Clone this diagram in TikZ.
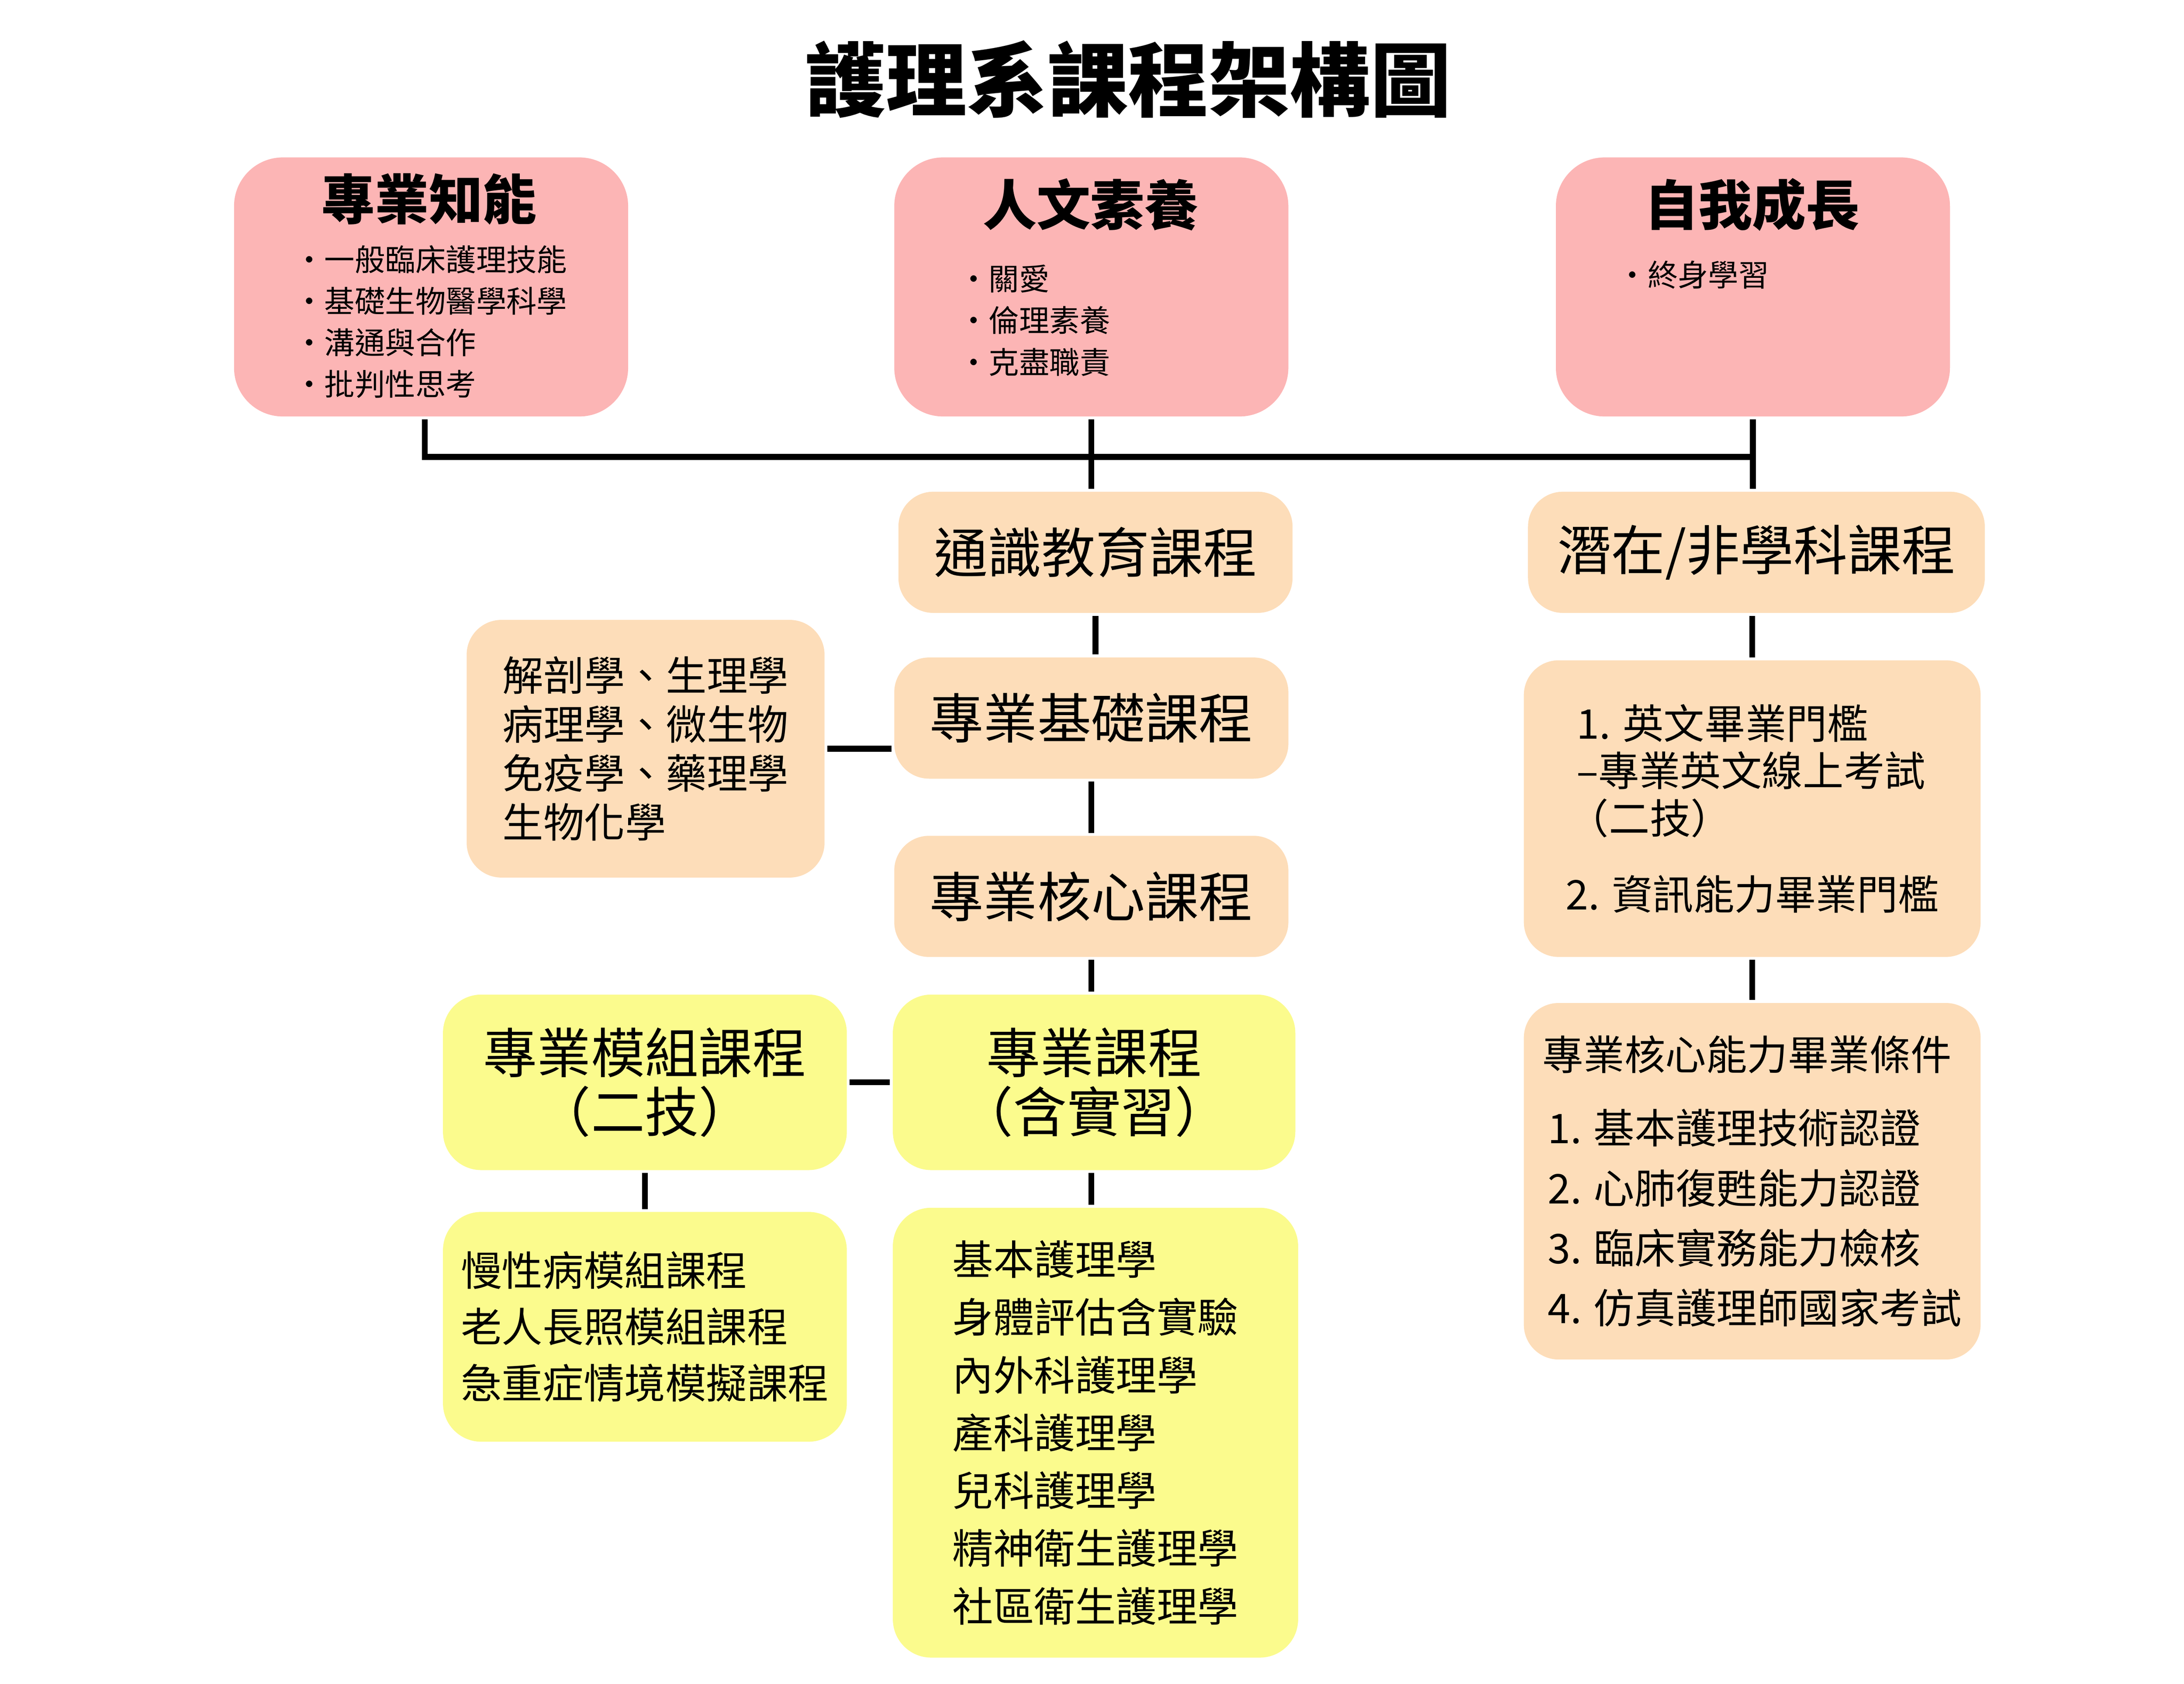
\documentclass[tikz,border=0pt]{standalone}
\usepackage{fontspec}
\setmainfont{Noto Sans CJK TC}
\newfontfamily\heavy{Noto Sans CJK TC Black}
\usepackage{tikz}
\usepackage{xcolor}
\usetikzlibrary{positioning}

\definecolor{pinkbox}{HTML}{FCB5B5}
\definecolor{peachbox}{HTML}{FDDDB9}
\definecolor{yellowbox}{HTML}{FBFB8D}

\newcommand{\fs}[2]{\fontsize{#1}{#2}\selectfont}

\begin{document}
\begin{tikzpicture}
	[x=0.02cm, y=-0.02cm, line width=2.4pt,
	top/.style = {fill=pinkbox, rounded corners=0.7cm, minimum width=5.66cm, minimum height=3.72cm},
	peach/.style = {fill=peachbox, rounded corners=0.5cm, inner sep=0pt},
	yel/.style = {fill=yellowbox, rounded corners=0.55cm, inner sep=0pt},
	big/.style = {font=\fs{22}{24}},
	small/.style = {font=\fs{16.7}{20}, align=left},
	head/.style = {font=\heavy\fs{22}{26}},
	items/.style = {font=\fs{12.4}{17}, align=left, anchor=north west, inner sep=0pt}]
	\useasboundingbox (0,0) rectangle (1568,1208.7);
	\node[font=\heavy\fs{33}{36}] (title) at (810,57) {護理系課程架構圖};
	% three goals
	\node[top] (know) at (309.5,206) {};
	\node[top] (human) at (783.5,206) {};
	\node[top] (grow) at (1258.5,206) {};
	\node[head] (knowt) at (308,143) {專業知能};
	\node[head] (humant) at (783,147) {人文素養};
	\node[head] (growt) at (1258,147) {自我成長};
	\node[items] (knowl) at (209,174) {・一般臨床護理技能\\・基礎生物醫學科學\\・溝通與合作\\・批判性思考};
	\node[items] (humanl) at (686,188) {・關愛\\・倫理素養\\・克盡職責};
	\node[items] (growl) at (1159,185) {・終身學習};
	% courses
	\node[peach, big, minimum width=5.66cm, minimum height=1.74cm] (general) at (786.5,396.5) {通識教育課程};
	\node[peach, big, minimum width=6.56cm, minimum height=1.74cm] (latent) at (1261,396.5) {潛在/非學科課程};
	\node[peach, big, minimum width=5.66cm, minimum height=1.74cm] (basic) at (783.5,515.5) {專業基礎課程};
	\node[peach, small, minimum width=5.14cm, minimum height=3.7cm] (basicl) at (463.5,537.5)
		{解剖學、生理學\\病理學、微生物\\免疫學、藥理學\\生物化學};
	\node[peach, big, minimum width=5.66cm, minimum height=1.74cm] (core) at (783.5,643.5) {專業核心課程};
	\node[yel, big, align=center, minimum width=5.78cm, minimum height=2.52cm] (prof) at (785.5,777) {專業課程\\（含實習）};
	\node[yel, big, align=center, minimum width=5.8cm, minimum height=2.52cm] (module) at (463,777) {專業模組課程\\（二技）};
	\node[yel, small, font=\fs{16.7}{23}, minimum width=5.8cm, minimum height=3.3cm] (modulel) at (463,952.5)
		{慢性病模組課程\\老人長照模組課程\\急重症情境模擬課程};
	\node[yel, small, font=\fs{16.7}{23.6}, minimum width=5.82cm, minimum height=6.46cm] (profl) at (786.5,1028.5)
		{基本護理學\\身體評估含實驗\\內外科護理學\\產科護理學\\兒科護理學\\精神衛生護理學\\社區衛生護理學};
	\node[peach, small, font=\fs{16.7}{19.4}, minimum width=6.56cm, minimum height=4.26cm] (gate) at (1258,580.5)
		{\hspace*{4.5pt}1. 英文畢業門檻\\\hspace*{4.5pt}–專業英文線上考試\\\hspace*{1pt}（二技）\\[11.6pt]2. 資訊能力畢業門檻};
	\node[peach, small, font=\fs{16.7}{24.5}, minimum width=6.56cm, minimum height=5.12cm] (cond) at (1258,848)
		{專業核心能力畢業條件\\[5.5pt]\hspace*{2pt}1. 基本護理技術認證\\\hspace*{2pt}2. 心肺復甦能力認證\\\hspace*{2pt}3. 臨床實務能力檢核\\\hspace*{2pt}4. 仿真護理師國家考試};
	% links
	\coordinate (hub) at (783,328);
	\draw ([xshift=-0.09cm]know.south) |- (hub) -| (grow.south);
	\draw (human.south) -- (human.south |- general.north);
	\draw (grow.south) -- (grow.south |- latent.north);
	\draw (general) -- (general |- basic.north);
	\draw (basic) -- (basic |- core.north);
	\draw (core) -- (core |- prof.north);
	\draw (basicl) -- (basicl -| basic.west);
	\draw (module) -- (prof);
	\draw (module) -- (modulel);
	\draw (prof.south -| core) -- (profl.north -| core);
	\draw (latent.south -| gate) -- (gate);
	\draw (gate) -- (cond);
\end{tikzpicture}
\end{document}
